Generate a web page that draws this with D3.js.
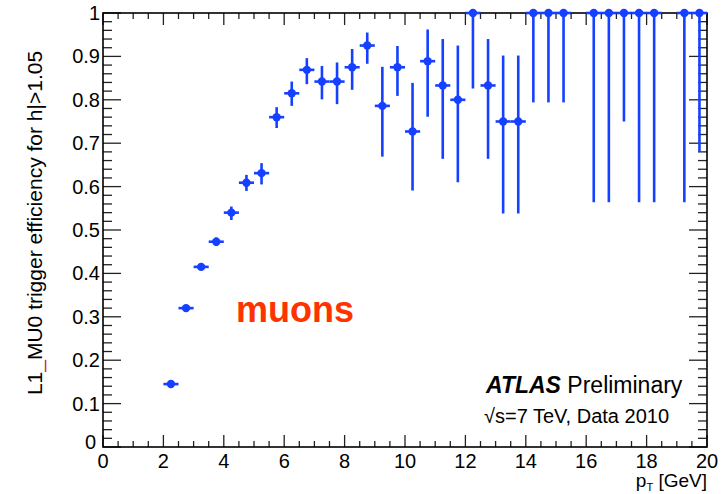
<!DOCTYPE html>
<html>
<head>
<meta charset="utf-8">
<script src="https://cdn.jsdelivr.net/npm/d3@7"></script>
<style>
  html, body { margin: 0; padding: 0; background: #fff; }
  svg { display: block; }
  text { font-family: "Liberation Sans", Arial, Helvetica, sans-serif; }
</style>
</head>
<body>
<svg id="chart" width="722" height="494"></svg>
<script>
// Bin centres in pT [GeV] (0.5 GeV bins)
const ptCenters = [2.25, 2.75, 3.25, 3.75, 4.25, 4.75, 5.25, 5.75, 6.25, 6.75,
                   7.25, 7.75, 8.25, 8.75, 9.25, 9.75, 10.25, 10.75, 11.25, 11.75,
                   12.25, 12.75, 13.25, 13.75, 14.25, 14.75, 15.25, 16.25, 16.75, 17.25,
                   17.75, 18.25, 19.25, 19.75];
// Measured efficiency per bin
const efficiency = [0.145, 0.320, 0.415, 0.473, 0.540, 0.609, 0.631, 0.760, 0.815, 0.869,
                    0.842, 0.842, 0.875, 0.925, 0.786, 0.875, 0.727, 0.889, 0.833, 0.800,
                    1.000, 0.833, 0.750, 0.750, 1.000, 1.000, 1.000, 1.000, 1.000, 1.000,
                    1.000, 1.000, 1.000, 1.000];
// Asymmetric uncertainties (down / up)
const errDown = [0.004, 0.005, 0.006, 0.010, 0.017, 0.019, 0.026, 0.025, 0.029, 0.033,
                 0.041, 0.052, 0.052, 0.042, 0.117, 0.066, 0.136, 0.128, 0.169, 0.190,
                 0.174, 0.169, 0.212, 0.212, 0.206, 0.206, 0.206, 0.436, 0.436, 0.250,
                 0.436, 0.436, 0.436, 0.320];
const errUp   = [0.004, 0.005, 0.006, 0.010, 0.014, 0.018, 0.023, 0.023, 0.027, 0.027,
                 0.036, 0.044, 0.042, 0.030, 0.090, 0.049, 0.112, 0.073, 0.107, 0.125,
                 0.000, 0.107, 0.152, 0.152, 0.000, 0.000, 0.000, 0.000, 0.000, 0.000,
                 0.000, 0.000, 0.000, 0.000];
const binHalfWidth = 0.25;

const xTicks = [0, 2, 4, 6, 8, 10, 12, 14, 16, 18, 20];
const yTicks = [0, 0.1, 0.2, 0.3, 0.4, 0.5, 0.6, 0.7, 0.8, 0.9, 1];
const yTickLabels = ["0", "0.1", "0.2", "0.3", "0.4", "0.5", "0.6", "0.7", "0.8", "0.9", "1"];

const data = ptCenters.map((pt, i) => ({
  pt, eff: efficiency[i], lo: efficiency[i] - errDown[i], hi: efficiency[i] + errUp[i]
}));

const W = 722, H = 494;
const margin = { left: 103, right: 15, top: 13, bottom: 47 };
const svg = d3.select("#chart");

const x = d3.scaleLinear().domain([0, 20]).range([margin.left, W - margin.right]);
const y = d3.scaleLinear().domain([0, 1]).range([H - margin.bottom, margin.top]);

const blue = "#1540ff";
const axisColor = "#222";

// Ticks (major + minor), mirrored on all four sides
const xMinor = d3.range(0, 20.001, 0.5);
const yMinor = d3.range(0, 1.0001, 0.02);
const isMajorX = v => Math.abs(v / 2 - Math.round(v / 2)) < 1e-6;
const isMajorY = v => Math.abs(v * 10 - Math.round(v * 10)) < 1e-6;

const ticks = svg.append("g").attr("stroke", axisColor).attr("stroke-width", 1.3);
xMinor.forEach(v => {
  const len = isMajorX(v) ? 12 : 6;
  ticks.append("line").attr("x1", x(v)).attr("x2", x(v))
    .attr("y1", y(0)).attr("y2", y(0) - len);
  ticks.append("line").attr("x1", x(v)).attr("x2", x(v))
    .attr("y1", y(1)).attr("y2", y(1) + len);
});
yMinor.forEach(v => {
  const len = isMajorY(v) ? 18 : 9;
  ticks.append("line").attr("y1", y(v)).attr("y2", y(v))
    .attr("x1", x(0)).attr("x2", x(0) + len);
  ticks.append("line").attr("y1", y(v)).attr("y2", y(v))
    .attr("x1", x(20)).attr("x2", x(20) - len);
});

// Frame
svg.append("rect")
  .attr("x", x(0)).attr("y", y(1))
  .attr("width", x(20) - x(0)).attr("height", y(0) - y(1))
  .attr("fill", "none").attr("stroke", "#000").attr("stroke-width", 1.6);

// Tick labels
svg.append("g").selectAll("text").data(xTicks).join("text")
  .attr("x", d => x(d)).attr("y", y(0) + 21)
  .attr("text-anchor", "middle").attr("font-size", 20).attr("fill", "#000")
  .text(d => d);

svg.append("g").selectAll("text").data(yTicks).join("text")
  .attr("x", (d, i) => i === 0 ? x(0) - 7 : x(0) - 3)
  .attr("y", (d, i) => i === 0 ? y(d) + 2 : y(d) + 7)
  .attr("text-anchor", "end").attr("font-size", 20).attr("fill", "#000")
  .text((d, i) => yTickLabels[i]);

// Axis titles
const xTitle = svg.append("text")
  .attr("x", x(20)).attr("y", 487)
  .attr("text-anchor", "end").attr("font-size", 19).attr("fill", "#000");
xTitle.append("tspan").text("p");
xTitle.append("tspan").attr("font-size", 11).attr("dy", 4).text("T");
xTitle.append("tspan").attr("dy", -4).text(" [GeV]");

const yTitle = svg.append("text")
  .attr("transform", `translate(42, 223) rotate(-90)`)
  .attr("text-anchor", "middle").attr("font-size", 21).attr("fill", "#000");
yTitle.append("tspan").text("L1");
yTitle.append("tspan").attr("fill", "#d0202a").text("_");
yTitle.append("tspan").text("MU0 trigger efficiency for h|>1.05");

// Error bars and markers
const pts = svg.append("g");
pts.selectAll("line.v").data(data).join("line").attr("class", "v")
  .attr("x1", d => x(d.pt)).attr("x2", d => x(d.pt))
  .attr("y1", d => y(d.lo)).attr("y2", d => y(d.hi))
  .attr("stroke", blue).attr("stroke-width", 2.6);
pts.selectAll("line.h").data(data).join("line").attr("class", "h")
  .attr("x1", d => x(d.pt - binHalfWidth)).attr("x2", d => x(d.pt + binHalfWidth))
  .attr("y1", d => y(d.eff)).attr("y2", d => y(d.eff))
  .attr("stroke", blue).attr("stroke-width", 2.6);
pts.selectAll("circle").data(data).join("circle")
  .attr("cx", d => x(d.pt)).attr("cy", d => y(d.eff)).attr("r", 4.2)
  .attr("fill", blue);

// Annotations
svg.append("text")
  .attr("x", 236).attr("y", 322)
  .attr("font-family", "Lato, 'Open Sans', sans-serif").attr("font-weight", "bold")
  .attr("font-size", 36).attr("fill", "#ff3300")
  .text("muons");

const atlas = svg.append("text").attr("x", 486).attr("y", 393).attr("font-size", 23).attr("fill", "#000");
atlas.append("tspan").attr("font-weight", "bold").attr("font-style", "italic").text("ATLAS");
atlas.append("tspan").text(" Preliminary");

svg.append("text").attr("x", 484).attr("y", 423).attr("font-size", 20).attr("fill", "#000")
  .text("\u221As=7 TeV, Data 2010");
</script>
</body>
</html>
